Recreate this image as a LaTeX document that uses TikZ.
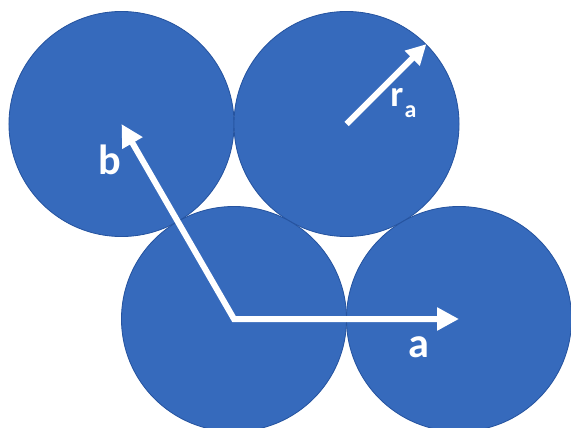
\documentclass[tikz,border=0pt]{standalone}
\usepackage{fontspec}
\setmainfont{Carlito}
\usepackage{tikz}
\usetikzlibrary{arrows.meta}
\definecolor{ab}{RGB}{54,106,188}
\definecolor{ae}{RGB}{38,84,160}

\begin{document}
\begin{tikzpicture}[
  x=0.025cm, y=-0.025cm,
  %% atom discs
  atom/.style = {circle, fill=ab, draw=ae, line width=0.6pt,
                 minimum size=5.625cm, inner sep=0pt},
  %% lattice vectors
  vec/.style  = {line width=0.15cm, draw=white},
  %% labels
  lbl/.style  = {text=white, inner sep=0pt,
                 font=\bfseries\fontsize{30}{32}\selectfont},
  rlbl/.style = {text=white, inner sep=0pt,
                 font=\bfseries\fontsize{26}{30}\selectfont}
]
\useasboundingbox (0,0) rectangle (571,427);

%% ---- Atoms ----
\node[atom] (TL) at (121.5,124) {};
\node[atom] (TR) at (346.5,124) {};
\node[atom] (BL) at (234,319)   {};
\node[atom] (BR) at (459,319)   {};

%% ---- Vectors ----
\draw[vec, {Triangle[length=0.55cm, width=0.55cm]}-{Triangle[length=0.55cm, width=0.55cm]}]
  (TL.center) -- (BL.center) -- (BR.center);
\draw[vec, -{Triangle[length=0.5cm, width=0.5cm]}] (TR.center) -- (TR.45);

%% ---- Labels ----
\node[lbl] (LB) at (110,160) {b};
\node[lbl] (LA) at (419,347) {a};
\node[rlbl, anchor=base west] (LR) at (390,106.7)
  {r\hspace{1pt}\raisebox{-7.5pt}{\fontsize{17}{20}\selectfont a}};

\end{tikzpicture}
\end{document}
